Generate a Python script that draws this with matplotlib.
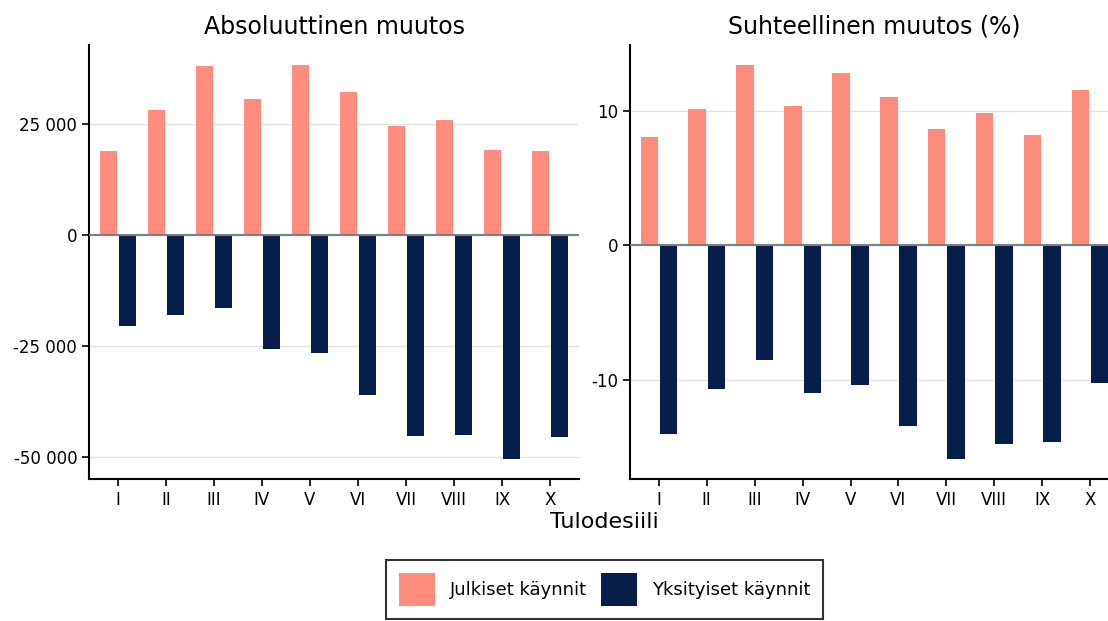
import matplotlib.pyplot as plt
from matplotlib.patches import Patch
from matplotlib.ticker import FuncFormatter
import numpy as np

# Income deciles
deciles = ['I', 'II', 'III', 'IV', 'V', 'VI', 'VII', 'VIII', 'IX', 'X']

# Absolute change in visits
abs_public = [18900, 28200, 38100, 30700, 38400, 32300, 24500, 25900, 19100, 18900]
abs_private = [-20500, -18000, -16400, -25800, -26600, -36100, -45400, -45200, -50600, -45600]

# Relative change (%)
rel_public = [8.0, 10.1, 13.4, 10.3, 12.8, 11.0, 8.6, 9.8, 8.2, 11.5]
rel_private = [-14.0, -10.7, -8.5, -11.0, -10.4, -13.4, -15.9, -14.8, -14.6, -10.2]

salmon = '#FF8C7C'
navy = '#081E4A'

plt.rcParams['font.family'] = 'DejaVu Sans'

W, H = 1108, 621
fig = plt.figure(figsize=(W / 100, H / 100), dpi=100)

def px_axes(x0, x1, y0, y1):
    return fig.add_axes([x0 / W, 1 - y1 / H, (x1 - x0) / W, (y1 - y0) / H])

ax1 = px_axes(89, 579, 45, 479)
ax2 = px_axes(630, 1119, 45, 479)

x = np.arange(1, len(deciles) + 1)
off = 0.2
bw = 0.36

def space_fmt(v, pos):
    s = f'{abs(int(round(v))):,}'.replace(',', ' ')
    return ('-' if v < 0 else '') + s

for ax, pub, priv, title in [(ax1, abs_public, abs_private, 'Absoluuttinen muutos'),
                             (ax2, rel_public, rel_private, 'Suhteellinen muutos (%)')]:
    ax.bar(x - off, pub, width=bw, color=salmon, zorder=2)
    ax.bar(x + off, priv, width=bw, color=navy, zorder=2)
    ax.axhline(0, color='#7f7f7f', lw=1.5, zorder=3)
    ax.set_xticks(x)
    ax.set_xticklabels(deciles)
    ax.set_xlim(0.4, 10.6)
    lo = min(priv)
    hi = max(pub)
    pad = (hi - lo) * 0.05
    ax.set_ylim(lo - pad, hi + pad)
    ax.grid(axis='y', color='#e3e3e3', lw=1, zorder=0)
    ax.set_axisbelow(True)
    for s in ['top', 'right']:
        ax.spines[s].set_visible(False)
    for s in ['left', 'bottom']:
        ax.spines[s].set_linewidth(1.5)
        ax.spines[s].set_color('black')
    ax.tick_params(axis='both', labelsize=12, length=5, width=1.2, colors='black')
    ax.set_title(title, fontsize=17, pad=8)

ax1.set_yticks([-50000, -25000, 0, 25000])
ax1.yaxis.set_major_formatter(FuncFormatter(space_fmt))
ax2.set_yticks([-10, 0, 10])
ax2.yaxis.set_major_formatter(FuncFormatter(space_fmt))

fig.text(604 / W, 1 - 522 / H, 'Tulodesiili', ha='center', va='center', fontsize=16)

handles = [Patch(facecolor=salmon, label='Julkiset käynnit'),
           Patch(facecolor=navy, label='Yksityiset käynnit')]
leg = fig.legend(handles=handles, loc='upper center', bbox_to_anchor=(604.5 / W, 1 - 560 / H),
                 ncol=2, fontsize=13, frameon=True, fancybox=False, edgecolor='black',
                 handlelength=2.0, handleheight=2.5, handletextpad=0.8, columnspacing=0.8,
                 borderpad=0.7, borderaxespad=0)
leg.get_frame().set_linewidth(1.5)

fig.savefig('out.png', dpi=100)
